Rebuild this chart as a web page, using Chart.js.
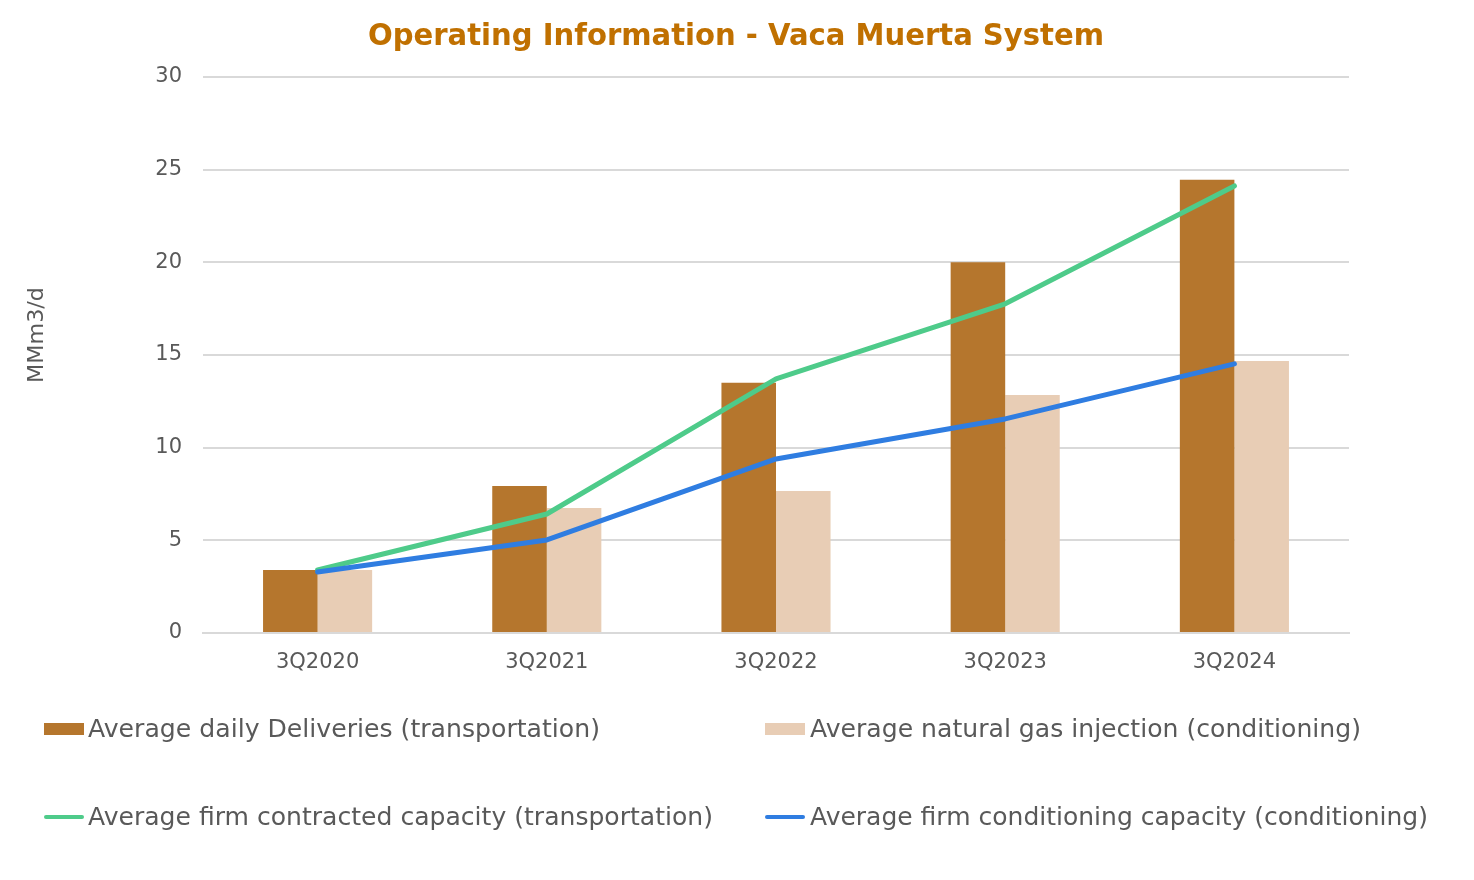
<!DOCTYPE html>
<html>
<head>
<meta charset="utf-8">
<script src="https://cdn.jsdelivr.net/npm/chart.js@4"></script>
<style>
  html, body { margin: 0; padding: 0; background: #fff; }
  #wrap { position: relative; width: 1474px; height: 880px; }
  #c { position: absolute; left: 0; top: 0; }
  .leg { position: absolute; font-family: "DejaVu Sans", sans-serif; font-size: 25px; color: #595959; white-space: nowrap; line-height: 30px; transform-origin: 0 50%; }
  .sw { position: absolute; }
</style>
</head>
<body>
<div id="wrap">
  <canvas id="c" width="1474" height="880"></canvas>
  <div id="legend"></div>
</div>
<script>
const categories = ["3Q2020", "3Q2021", "3Q2022", "3Q2023", "3Q2024"];
const deliveries = [3.4, 7.93, 13.5, 20.0, 24.45];
const injection = [3.4, 6.75, 7.66, 12.84, 14.68];
const contractedCapacity = [3.4, 6.42, 13.71, 17.76, 24.12];
const conditioningCapacity = [3.29, 5.02, 9.39, 11.55, 14.52];
const yTicks = [0, 5, 10, 15, 20, 25, 30];

const titleText = 'Operating Information - Vaca Muerta System';
const yTitleText = 'MMm3/d';
const seriesNames = [
  "Average daily Deliveries (transportation)",
  "Average natural gas injection (conditioning)",
  "Average firm contracted capacity (transportation)",
  "Average firm conditioning capacity (conditioning)"
];
const colors = ["#B5762D", "#E8CDB5", "#4ECB8A", "#2F7DE1"];

function drawStretched(ctx, text, font, color, cx, cy, targetW, rot) {
  ctx.save();
  ctx.font = font;
  const w = ctx.measureText(text).width;
  ctx.translate(cx, cy);
  if (rot) ctx.rotate(rot);
  ctx.scale(targetW / w, 1);
  ctx.fillStyle = color;
  ctx.textAlign = 'center';
  ctx.textBaseline = 'alphabetic';
  ctx.fillText(text, 0, 0);
  ctx.restore();
}

const textPlugin = {
  id: 'texts',
  afterDraw(chart) {
    const ctx = chart.ctx;
    drawStretched(ctx, titleText, 'bold 30px "DejaVu Sans", sans-serif', '#C07000', 736, 45, 736, 0);
    drawStretched(ctx, yTitleText, '21px "DejaVu Sans", sans-serif', '#595959', 43, 335, 96, -Math.PI / 2);
  }
};

new Chart(document.getElementById('c'), {
  type: 'bar',
  data: {
    labels: categories,
    datasets: [
      { type: 'line', label: seriesNames[2], data: contractedCapacity, borderColor: colors[2], backgroundColor: colors[2], borderWidth: 5, pointRadius: 0, tension: 0, borderCapStyle: 'round', borderJoinStyle: 'round', order: 1 },
      { type: 'line', label: seriesNames[3], data: conditioningCapacity, borderColor: colors[3], backgroundColor: colors[3], borderWidth: 5, pointRadius: 0, tension: 0, borderCapStyle: 'round', borderJoinStyle: 'round', order: 0 },
      { label: seriesNames[0], data: deliveries, backgroundColor: colors[0], categoryPercentage: 0.476, barPercentage: 1.0, order: 2 },
      { label: seriesNames[1], data: injection, backgroundColor: colors[1], categoryPercentage: 0.476, barPercentage: 1.0, order: 3 }
    ]
  },
  options: {
    responsive: false,
    animation: false,
    layout: { padding: { left: 0, right: 125, top: 77, bottom: 0 } },
    plugins: {
      legend: { display: false },
      tooltip: { enabled: false },
      title: { display: false }
    },
    scales: {
      x: {
        grid: { display: false, drawTicks: false },
        border: { display: true, color: '#D9D9D9', width: 2 },
        ticks: { color: '#595959', font: { family: '"DejaVu Sans", sans-serif', size: 21 }, padding: 17 },
        afterFit(s) { s.height = 247; }
      },
      y: {
        min: 0, max: 30,
        afterBuildTicks(s) { s.ticks = yTicks.map(v => ({ value: v })); },
        grid: { color: '#D9D9D9', lineWidth: 2, drawTicks: false },
        border: { display: false },
        ticks: { color: '#595959', font: { family: '"DejaVu Sans", sans-serif', size: 21 }, padding: 21 },
        afterFit(s) { s.width = 203; }
      }
    }
  },
  plugins: [textPlugin]
});

// Legend (2x2 layout)
const legendItems = [
  { name: seriesNames[0], color: colors[0], kind: 'box', x: 44, y: 729, tx: 88, tw: 512 },
  { name: seriesNames[1], color: colors[1], kind: 'box', x: 765, y: 729, tx: 810, tw: 551 },
  { name: seriesNames[2], color: colors[2], kind: 'line', x: 44, y: 817, tx: 88, tw: 625 },
  { name: seriesNames[3], color: colors[3], kind: 'line', x: 765, y: 817, tx: 810, tw: 618 }
];
const mctx = document.createElement('canvas').getContext('2d');
mctx.font = '25px "DejaVu Sans", sans-serif';
const lg = document.getElementById('legend');
legendItems.forEach(it => {
  const sw = document.createElement('div');
  sw.className = 'sw';
  if (it.kind === 'box') {
    sw.style.cssText = `left:${it.x}px;top:${it.y - 6}px;width:40px;height:12px;background:${it.color};`;
  } else {
    sw.style.cssText = `left:${it.x}px;top:${it.y - 2}px;width:40px;height:4px;border-radius:2px;background:${it.color};`;
  }
  lg.appendChild(sw);
  const t = document.createElement('div');
  t.className = 'leg';
  t.textContent = it.name;
  t.style.left = it.tx + 'px';
  t.style.top = (it.y - 15) + 'px';
  const w = mctx.measureText(it.name).width;
  t.style.transform = `scaleX(${it.tw / w})`;
  lg.appendChild(t);
});
</script>
</body>
</html>
